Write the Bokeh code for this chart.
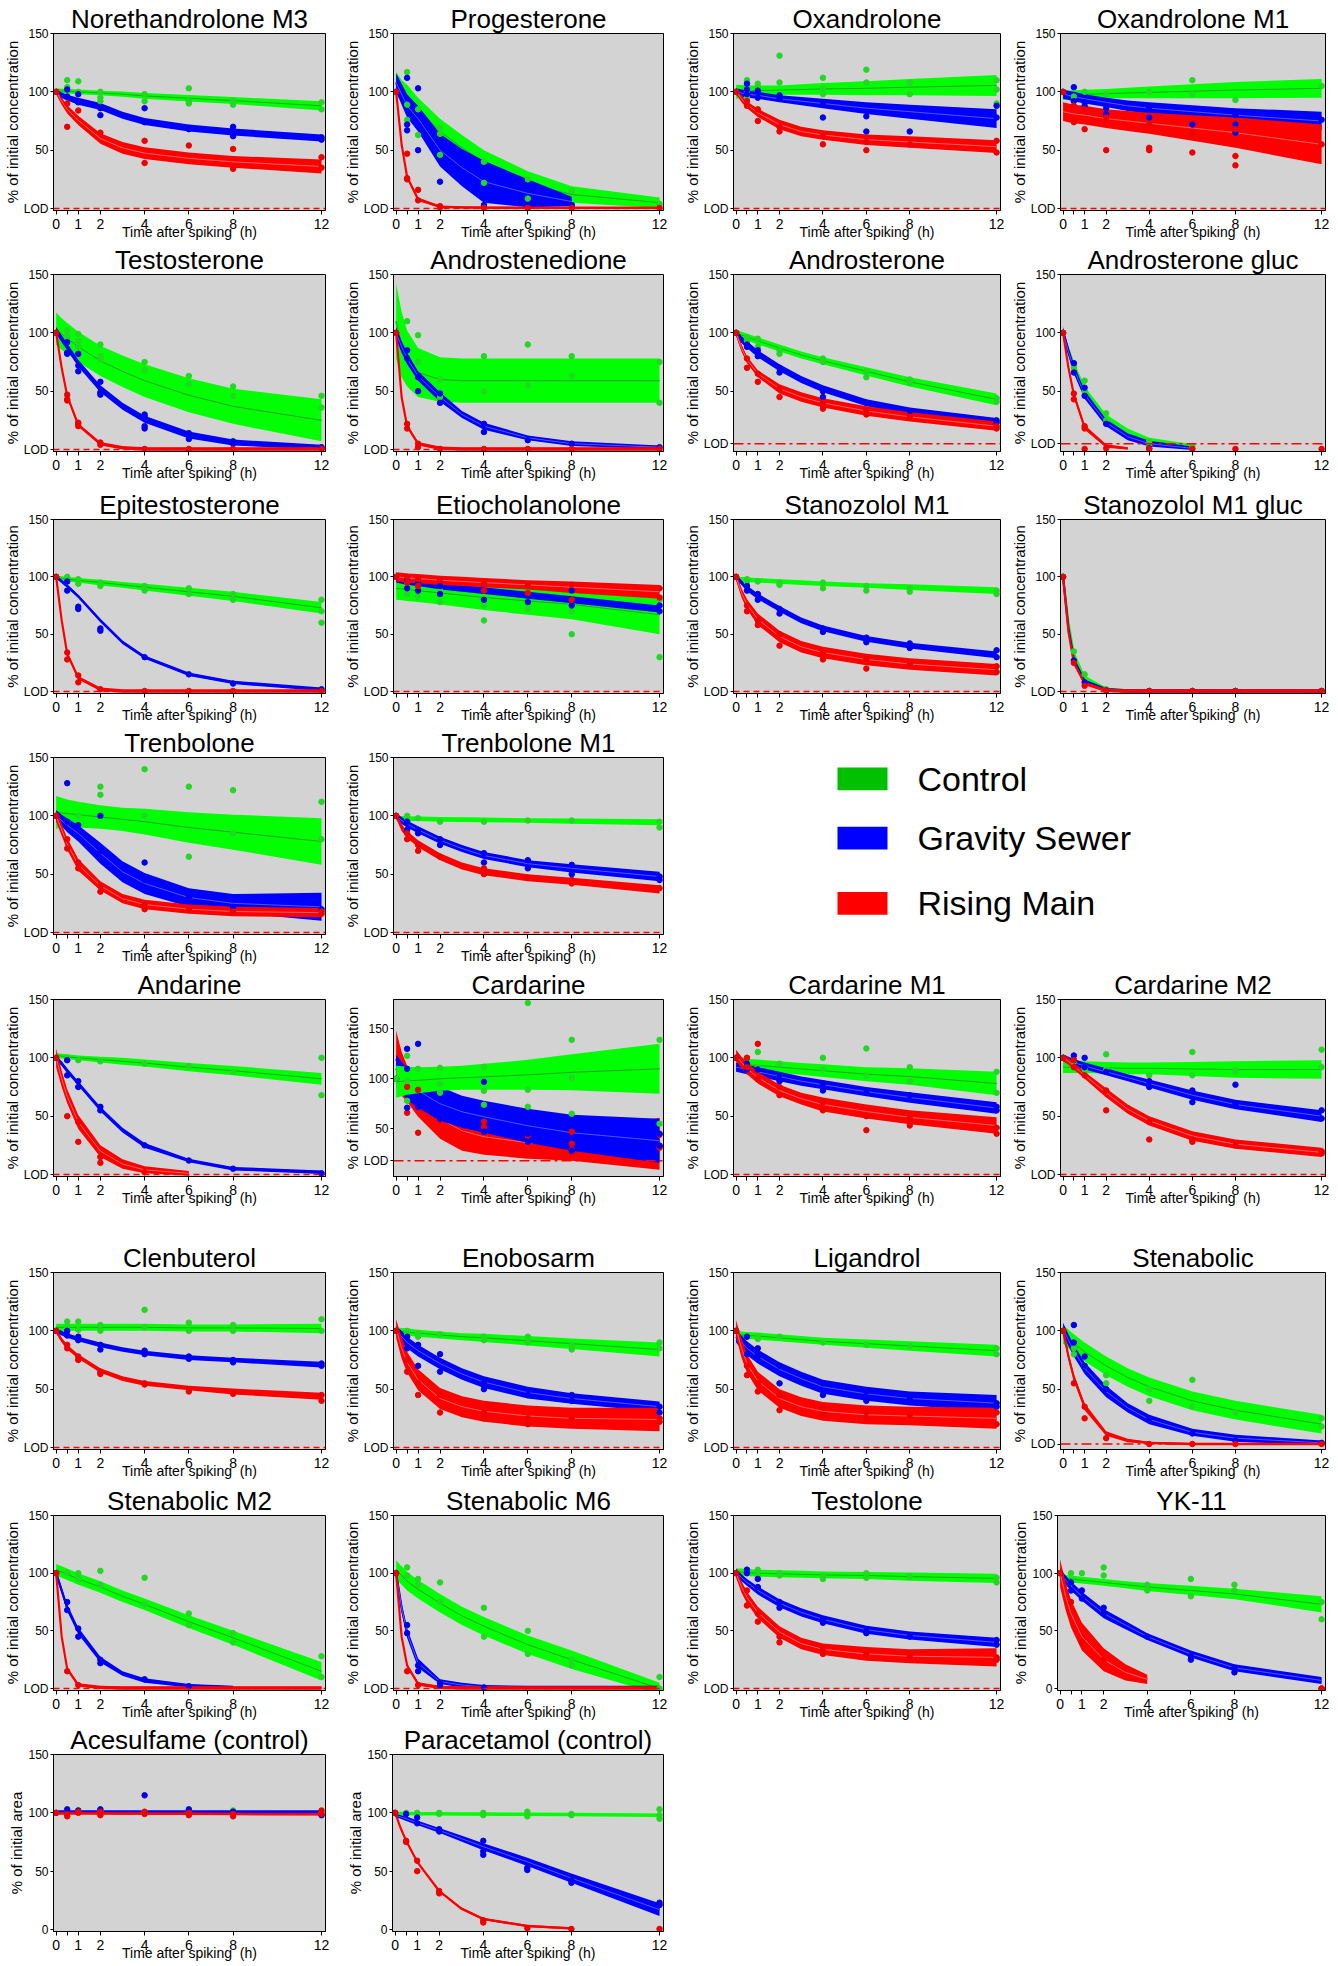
from bokeh.plotting import figure
from bokeh.models import Range1d, FixedTicker, Span, Spacer
from bokeh.layouts import row, column
from bokeh.core.properties import value
from bokeh.embed import file_html
from bokeh.resources import INLINE

FONT = "Liberation Sans"

CURVE_T = [0, 0.25, 0.5, 1, 2, 3, 4, 6, 8, 12]
POINT_T = [0, 0.5, 1, 2, 4, 6, 8, 12]
X_TICKS = [0, 0.5, 1, 2, 4, 6, 8, 12]
X_TICK_LABELS = ["0", "", "1", "2", "4", "6", "8", "12"]
X_LABEL = "Time after spiking\u00a0 (h)"

TITLES = ["Norethandrolone M3", "Progesterone", "Oxandrolone", "Oxandrolone M1",
          "Testosterone", "Androstenedione", "Androsterone", "Androsterone gluc",
          "Epitestosterone", "Etiocholanolone", "Stanozolol M1", "Stanozolol M1 gluc",
          "Trenbolone", "Trenbolone M1",
          "Andarine", "Cardarine", "Cardarine M1", "Cardarine M2",
          "Clenbuterol", "Enobosarm", "Ligandrol", "Stenabolic",
          "Stenabolic M2", "Stenabolic M6", "Testolone", "YK-11",
          "Acesulfame (control)", "Paracetamol (control)"]

# LOD level per panel (None = plain 0 axis, no LOD line)
LOD = [0, 0, 0, 0, 0, 0, 5, 5, 0, 0, 0, 0, 0, 0,
       0, 18, 0, 0, 0, 0, 0, 3, 0, 0, 0, None, None, None]
Y_LABELS = ["% of initial concentration"] * 26 + ["% of initial area"] * 2
Y_MAX = [150] * 15 + [179.4] + [150] * 12
Y_MIN = [-1.7] * 15 + [2.2] + [-1.7] * 12
SERIES_ORDER = ["GBR"] * 15 + ["RBG"] + ["GBR"] * 12

SERIES_NAMES = ["Control", "Gravity Sewer", "Rising Main"]

# ---- fitted curve (centre) and half-width of confidence band, at CURVE_T ----
G_MID = [
    [101, 100.7, 100.5, 100, 99, 98, 96.5, 94.5, 92.5, 88],
    [107, 101, 96, 85, 66, 52, 40, 21, 12, 5],
    [100, 100.3, 100.5, 101, 101.5, 102, 102.5, 103, 104, 105.5],
    [97, 97.2, 97.4, 97.8, 98.5, 99, 99.5, 100.5, 101.5, 103],
    [103.5, 99, 95.5, 88, 76, 67, 59, 46.5, 37, 25],
    [110, 90, 78, 66, 60, 59, 59, 59, 59, 59],
    [100, 98, 96.5, 93, 87, 81, 76, 67, 58, 43],
    [100, 86, 73, 52, 28, 16, 8, 3, None, None],
    [99, 98.5, 98, 97, 95, 93, 91, 87, 83, 73],
    [90, 89.5, 89, 88, 86, 84, 82, 79, 76, 67],
    [98, 97.8, 97.5, 97, 96, 95, 94, 92.5, 91, 88],
    [100, 60, 33, 12, 2, 0.5, 0.5, 0.5, 0.5, 0.5],
    [103, 102.5, 102, 101, 99, 97, 95, 90, 86, 78],
    [98, 97.8, 97.6, 97.5, 97, 96.8, 96.5, 96, 95.5, 94.5],
    [102, 101.5, 101, 100, 98.5, 97, 95.5, 92, 89, 82],
    [97, 97.5, 98, 98.5, 100, 101, 102, 104, 106.5, 110],
    [95, 94.5, 94, 93.5, 92, 90.5, 89, 86, 84, 78],
    [92, 92, 92, 92, 91.5, 91, 91, 90.5, 90, 90],
    [103, 103, 103, 103, 103, 103, 103, 102.5, 102.5, 102],
    [100, 99.5, 99, 98, 96.5, 95, 94, 91.5, 89, 84],
    [97, 96.5, 96, 95.5, 94, 92.5, 91, 89, 87, 83],
    [97, 93, 89, 82, 70, 60, 52, 40, 32, 20],
    [103, 101, 99, 95, 88, 80, 73, 58, 44, 15],
    [103, 98, 93, 86, 74, 63, 54, 38, 25, 0],
    [101, 101, 100.5, 100, 99.5, 99, 98.5, 98, 97, 95.5],
    [96, 95.5, 95, 94, 92, 90, 88, 85, 82, 73],
    [100.5, 100.5, 100.5, 100.5, 100.5, 100.5, 100.5, 100.5, 100.5, 100.5],
    [99.5, 99.5, 99.4, 99.3, 99.2, 99, 98.9, 98.7, 98.5, 98],
]
G_HW = [
    [2, 2, 2, 2, 2, 2.3, 2.5, 2.8, 3, 4],
    [10, 9, 10, 10, 11, 11, 10, 11, 7, 4.5],
    [6, 5.5, 5, 4.5, 4, 4.5, 5, 6, 7, 9],
    [4, 4, 4, 4, 4, 4.5, 5, 6, 7, 8],
    [14, 13.5, 13, 13, 13, 13.5, 14, 14.5, 15, 18],
    [32, 28, 24, 21, 19, 19, 19, 19, 19, 19],
    [3, 3, 3, 3, 3, 3, 3, 3.5, 4, 5],
    [2, 2, 2, 2, 2, 2, 2, 1.5, 1.5, 1.5],
    [2, 2, 2, 2, 2.5, 2.5, 3, 3.5, 4, 5],
    [10, 10, 10, 10, 10, 10.5, 11, 12, 13, 17],
    [2, 2, 2, 2, 2, 2, 2, 2, 2.5, 3],
    [2, 2, 2, 2, 1.5, 1.5, 1.5, 1.5, 1.5, 1.5],
    [14, 13, 12, 11, 10, 10, 11, 13, 15, 20],
    [2, 2, 2, 2, 2, 2, 2, 2, 2.2, 2.5],
    [2, 2, 2, 2, 2.5, 3, 3, 3.5, 4, 5],
    [16, 15, 14, 13, 12, 12, 13, 15, 18, 25],
    [6, 6, 5, 5, 5, 5, 5.5, 6, 7, 10],
    [5, 5, 5, 5, 5, 5, 5, 6, 7, 8],
    [3, 3, 3, 3, 3, 3, 3, 3, 3, 4],
    [3, 3, 3, 3, 3, 3, 3.5, 4, 4.5, 6],
    [3, 3, 3, 3, 3, 3, 3, 3.5, 4, 5],
    [8, 8, 8, 8, 8, 8, 8, 8, 8, 8],
    [5, 5, 5, 5, 5, 5, 5, 5.5, 6, 8],
    [8, 8, 8, 8, 8, 8, 8, 8, 8, 5],
    [3, 3, 3, 3, 3, 3, 3, 3, 3.5, 4],
    [3, 3, 3, 3, 3, 3, 3.5, 4, 4.5, 7],
    [1, 1, 1, 1, 1, 1, 1, 1, 1, 1],
    [1.5, 1.5, 1.5, 1.5, 1.5, 1.5, 1.5, 1.5, 1.5, 1.5],
]
B_MID = [
    [100, 97, 95, 92, 87.5, 80, 74.5, 69, 65.5, 60.5],
    [108, 98, 88, 77, 50, 35, 23, 13, 6, None],
    [100, 99, 98, 97, 94, 92, 90, 86, 83, 77],
    [98, 97, 96, 94, 91, 88, 86, 83, 80, 75],
    [102, 95, 88, 74, 52, 37, 26, 12.5, 6, 2],
    [100, 88, 78, 63, 45, 30, 20, 10, 5, 2],
    [100, 94, 90, 82, 70, 60, 52, 40, 33, 24],
    [100, 84, 69, 47, 23, 11, 5, 1, None, None],
    [100, 96, 92, 83, 62, 43, 30, 15, 8, 2],
    [98, 97, 96, 95, 92, 90, 88, 84, 80, 72],
    [100, 95, 90, 83, 72, 62, 55, 46, 40, 32],
    [100, 55, 28, 9, 1.5, 0.5, 0.5, 0.5, 0.5, 0.5],
    [100, 96, 92, 85, 68, 52, 42, 30, 25, 22],
    [100, 96, 93, 88, 79, 72, 66, 59, 55, 48],
    [100, 95, 89, 78, 56, 38, 25, 12, 5, 2],
    [110, 102, 95, 88, 75, 67, 62, 53, 46, 38],
    [92, 91, 90, 88, 84, 80, 77, 71, 66, 57],
    [100, 98, 96, 93, 88, 83, 78, 68, 60, 50],
    [100, 98, 96, 93, 88, 84, 81, 77, 75, 71],
    [100, 95, 90, 83, 72, 63, 56, 47, 42, 35],
    [95, 90, 85, 78, 67, 59, 52, 46, 42, 38],
    [102, 92, 83, 68, 48, 34, 24, 13, 8, 4],
    [100, 85, 70, 50, 25, 13, 7, 2.5, 1, None],
    [100, 70, 48, 22, 6, 3, 1.5, 1, 1, 1],
    [101, 96, 92, 85, 74, 66, 60, 51, 46, 40],
    [100, 94, 89, 80, 65, 55, 45, 30, 18, 7],
    [101, 101, 101, 101, 101, 101, 101, 101, 101, 101],
    [98, 96.5, 95, 91.5, 85, 78, 71, 58, 44, 17],
]
B_HW = [
    [2, 2.5, 2.5, 3, 3, 3, 3, 3, 3, 3],
    [8, 9, 10, 11, 14, 16, 18, 12, 4, 4],
    [3, 3, 3, 3, 3, 3.5, 4, 5, 6, 8],
    [4, 4, 4, 4, 4, 4.5, 5, 5.5, 6, 8],
    [3, 3, 3, 3, 3, 3, 3, 3, 2.5, 2],
    [5, 5, 5, 4, 4, 3, 3, 2, 2, 1.5],
    [3, 3, 3, 3, 3, 3, 3, 3, 3, 3],
    [5, 4, 4, 3.5, 3, 3, 2.5, 1.5, 1.5, 1.5],
    [1.5, 1.5, 1.5, 1.5, 1.5, 1.5, 1.5, 1.5, 1.5, 1.5],
    [3, 3, 3, 3, 3, 3, 3, 3, 3, 3],
    [2, 2, 2.5, 2.5, 2.5, 2.5, 2.5, 2.5, 2.5, 3],
    [1.5, 1.5, 1.5, 1.5, 1.5, 1.5, 1.5, 1.5, 1.5, 1.5],
    [5, 5, 6, 7, 9, 9, 9, 8, 8, 12],
    [2, 3, 3, 3, 3, 3, 3, 3, 3.5, 4],
    [2, 2, 2, 2, 2, 2, 2, 1.5, 1.5, 1.5],
    [14, 15, 16, 17, 17, 16, 16, 17, 18, 22],
    [4, 4, 4, 4, 4, 4, 4, 4, 4.5, 5],
    [3, 3, 3, 3, 3, 3, 3.5, 4, 4, 5],
    [2, 2, 2, 2, 2, 2, 2, 2, 2, 2.5],
    [4, 5, 5, 5, 5, 5, 5, 5, 4.5, 4.5],
    [5, 6, 6, 6, 6, 6, 6, 6, 6, 7],
    [5, 5, 5, 5, 5, 4, 4, 3, 3, 2],
    [3, 3, 3, 3, 2.5, 2, 2, 1.5, 1.5, 1.5],
    [4, 4, 4, 4, 2, 2, 1.5, 1.5, 1.5, 1.5],
    [3, 3, 3, 3.5, 3.5, 3.5, 3.5, 3.5, 3.5, 4],
    [4, 4, 4, 4, 4, 3.5, 3, 3, 3, 3],
    [1, 1, 1, 1, 1, 1, 1, 1, 1, 1],
    [1.5, 1.5, 2, 2, 2, 2.5, 3, 3.5, 4, 5.5],
]
R_MID = [
    [100, 92, 85, 75.5, 60, 52, 47.5, 43, 40, 36],
    [100, 55, 27, 8, 1.5, 1, 0.8, 0.5, 0.5, 0.5],
    [100, 94, 89, 82, 72, 66, 63, 59, 57, 53],
    [83, 82, 81, 80, 77, 75, 73, 69, 65, 55],
    [100, 70, 46, 21, 5, 1.5, 0.5, 0.5, 0.5, 0.5],
    [100, 45, 20, 5, 1, 0.5, 0.5, 0.5, 0.5, 0.5],
    [100, 87, 77, 65, 52, 45, 40, 33, 28, 20],
    [100, 70, 47, 19, 3, 1, None, None, None, None],
    [100, 62, 33, 12, 2, 0.5, 0.5, 0.5, 0.5, 0.5],
    [100, 99.5, 99, 98.5, 97, 96, 95, 93, 91, 87],
    [100, 86, 76, 63, 48, 39, 34, 28, 24, 19],
    [100, 52, 25, 7, 1, 0.5, 0.5, 0.5, 0.5, 0.5],
    [100, 88, 76, 58, 40, 29, 24, 20, 18, 17],
    [100, 90, 84, 76, 65, 57, 52, 47, 44, 37],
    [100, 82, 67, 45, 20, 9, 4, 1, None, None],
    [120, 105, 95, 80, 60, 48, 42, 36, 32, 35],
    [102, 96, 91, 83, 72, 65, 60, 54, 49, 42],
    [100, 97, 93, 85, 70, 56, 46, 33, 26, 19],
    [100, 92, 86, 78, 66, 59, 55, 51, 48, 44],
    [102, 85, 73, 58, 42, 35, 31, 27, 25, 24],
    [102, 85, 72, 57, 42, 35, 31, 28, 27, 25],
    [100, 78, 60, 35, 12, 6, 4, 3, 3, 3],
    [100, 45, 17, 3, 1, 0.5, 0.5, 0.5, 0.5, 0.5],
    [100, 45, 20, 4, 1, 0.5, 0.5, 0.5, 0.5, 0.5],
    [100, 88, 79, 66, 49, 39, 34, 30, 28, 27],
    [100, 80, 65, 45, 25, 14, 8, None, None, None],
    [99.5, 99.5, 99.5, 99.5, 99.5, 99.4, 99.3, 99.2, 99, 98.8],
    [100, 87, 76, 58, 33, 18, 9, 3, 1, None],
]
R_HW = [
    [2, 3, 3.5, 4, 4.5, 5, 5, 5, 5, 6],
    [2, 2, 1.5, 1.5, 1, 1, 1, 1, 1, 1],
    [2, 3, 3, 3.5, 4, 4, 4, 4.5, 5, 5.5],
    [8, 8, 8, 8, 8, 8.5, 9, 11, 13, 17],
    [1.5, 1.5, 1.5, 1.5, 1.5, 1.5, 1.5, 1.5, 1.5, 1.5],
    [1.5, 1.5, 1.5, 1.5, 1.5, 1.5, 1.5, 1.5, 1.5, 1.5],
    [2, 3, 3, 3, 4, 4, 4, 4, 4, 4],
    [2, 2, 2, 2, 1.5, 1, 1, 1, 1, 1],
    [1.5, 1.5, 1.5, 1.5, 1.5, 1.5, 1.5, 1.5, 1.5, 1.5],
    [4, 4, 4, 4, 4, 4, 4, 4, 5, 6],
    [3, 4, 4.5, 5, 5, 5, 5, 5, 5, 5],
    [1.5, 1.5, 1.5, 1.5, 1.5, 1.5, 1.5, 1.5, 1.5, 1.5],
    [5, 5, 5, 5, 4, 4, 4, 4, 4, 4],
    [2, 3, 3, 3, 3, 3, 3, 3, 3, 3.5],
    [8, 7, 6, 6, 5, 4, 3, 2, 2, 2],
    [28, 22, 18, 18, 20, 20, 18, 16, 14, 26],
    [5, 5, 5, 5, 5, 5, 6, 6, 6, 7],
    [3, 3, 3, 3, 4, 4, 4, 4, 4, 4],
    [2, 2, 2, 2, 2, 2, 2, 2, 2.5, 3],
    [8, 9, 9, 9, 9, 9, 9, 9, 9, 10],
    [7, 8, 8, 8, 8, 8, 8, 8, 8, 9],
    [3, 3, 3, 3, 2, 1.5, 1, 1, 1, 1],
    [1.5, 1.5, 1.5, 1.5, 1.5, 1.5, 1.5, 1.5, 1.5, 1.5],
    [1.5, 1.5, 1.5, 1.5, 1.5, 1.5, 1.5, 1.5, 1.5, 1.5],
    [4, 5, 5, 5, 5, 5, 5, 6, 6, 8],
    [12, 12, 12, 12, 10, 7, 4, 4, 4, 4],
    [1, 1, 1, 1, 1, 1, 1, 1, 1, 1],
    [1, 1, 1, 1, 1, 1, 1, 1, 1, 1],
]

# ---- measured replicates at POINT_T ----
G_PTS = [
    [[100], [110, 104], [109, 100], [100, 95, 92], [98, 92], [103, 92, 90], [92, 89], [91, 85]],
    [[100], [117, 89, 76], [85, 63], [69, 64, 46], [40, 22], [25, 8.5], [15], [4]],
    [[100], [110, 100, 95], [107, 104], [131, 108], [112, 103, 98], [119, 108], [108, 98], [110, 102, 90]],
    [[100], [96], [100], [98], [100], [110, 98], [93], [105]],
    [[100], [102, 97], [99, 93, 88], [90, 80, 77], [75, 68], [63, 56], [54, 46], [46, 36]],
    [[100], [110], [98, 75], [60, 45], [80, 50], [90, 55], [80, 63], [75, 40]],
    [[100], [96, 93], [95, 88], [85, 82], [78, 75], [67, 62], [60, 57], [44, 41]],
    [[100], [72, 70], [59, 50], [31, 25], [7, 3], [3, 1], [], []],
    [[100], [100, 96], [98, 94], [95, 92], [92, 88], [90, 85], [85, 80], [80, 70, 60]],
    [[100], [95, 85], [90, 83], [88, 78], [75, 62], [85, 72], [70, 50], [80, 30]],
    [[100], [98, 95], [96], [95, 93], [95, 90], [92, 88], [90, 87], [88, 85]],
    [[100], [35], [15], [2], [0.5], [0.5], [0.5], [0.5]],
    [[100], [95], [100], [125, 118], [140, 100], [125, 65], [122, 85], [112, 80]],
    [[100], [100, 96], [98], [95], [95], [96], [96], [95, 90]],
    [[100], [100, 98], [98], [97], [95], [93], [88], [100, 68]],
    [[100], [123, 98, 78], [110], [111, 95, 86], [112, 88, 74], [176, 89, 72], [139, 101, 65], [139, 55]],
    [[100], [100, 95], [105, 92], [95, 85], [100, 90], [108, 85], [92, 80], [88, 70]],
    [[100], [97], [92, 90], [103, 90], [85], [105, 85], [90, 88], [107, 92]],
    [[100], [108, 103], [108, 101], [105, 100], [118, 103], [107, 100], [105, 100], [110, 100]],
    [[100], [100, 97], [98, 95], [97], [95, 92], [95, 90], [88, 84], [90, 85]],
    [[100], [95], [95, 93], [95], [90], [88], [87], [85, 80]],
    [[100], [85, 80], [78, 70], [62, 55], [50, 40], [58, 35], [30], [25, 18]],
    [[100], [100], [100, 95], [102, 90], [96, 73], [65, 55], [48, 40], [28, 10]],
    [[100], [105, 98], [95, 90], [92, 75], [70, 45], [50, 30], [25, 20], [10, 0]],
    [[100], [103, 100], [103, 98], [100, 98], [98, 95], [100, 96], [97], [96, 92]],
    [[100], [100, 92], [100], [105, 98], [90, 85], [95, 80], [90, 85], [75, 60]],
    [[100], [101, 99], [102], [102], [100], [101], [102], [100]],
    [[100], [100, 99], [100], [100, 99], [100, 98], [101, 97], [99, 98], [103, 98, 95]],
]
B_PTS = [
    [[100], [102, 96], [98, 91], [86, 80], [86, 74], [69, 68], [70, 62], [61, 59]],
    [[100], [112, 72, 67], [103, 50], [58, 23], [3], [1], [3], []],
    [[100], [107, 102, 98], [101, 95], [97, 94], [89, 78], [79, 66], [66], [88, 78]],
    [[100], [104, 92], [91, 88], [86, 81], [87, 78], [72], [80, 72, 65], [76]],
    [[100], [92, 83, 82], [82, 72, 67], [58, 49, 47], [30, 28, 20, 18], [14, 12, 9], [7, 5], [2]],
    [[100], [85, 78], [62, 50], [48, 40], [22, 15], [8], [5], [2]],
    [[100], [90, 88], [85, 80], [70, 66], [50, 45], [40], [33], [25, 23]],
    [[100], [74, 66], [53, 46], [22], [1], [], [], []],
    [[100], [96, 88], [74, 72], [55, 53], [30], [15], [7], [2]],
    [[100], [97, 90], [95, 88], [92, 85], [88, 80], [85, 78], [88, 75], [75, 70]],
    [[100], [92, 88], [85, 80], [72, 68], [55, 52], [47, 43], [42, 38], [36, 30]],
    [[100], [27], [8], [1], [0.5], [0.5], [0.5], [0.5]],
    [[100], [128, 95], [92], [100, 70], [60, 45], [30], [22], [20]],
    [[100], [95, 88], [88, 85], [80, 75], [68, 60], [62, 55], [58, 50], [48, 45]],
    [[100], [98, 85], [80, 75], [58, 55], [25], [12], [5], [1]],
    [[100], [130, 110, 71], [135, 80, 72], [85, 60], [97, 47], [45, 37], [28], [45, 33]],
    [[100], [95, 90], [90], [85, 80], [78, 72], [70], [68], [58, 55]],
    [[100], [102, 98], [100, 92], [88], [80, 75], [72, 62], [77, 60], [55, 48]],
    [[100], [100, 96], [95, 92], [88, 84], [83, 80], [78, 76], [75, 73], [72, 70]],
    [[100], [95, 85], [88, 70], [80, 65], [55, 50], [45], [45, 40], [35, 30]],
    [[100], [95, 80], [85, 78], [70, 55], [55, 45], [48, 40], [42], [38, 35]],
    [[100], [105, 90], [78, 70], [50], [25], [12], [6], [4]],
    [[100], [75, 68], [52, 45], [25, 22], [8], [2], [], []],
    [[100], [55, 48], [20, 15], [5, 3], [1], [], [], []],
    [[100], [103, 100], [95, 88], [75, 70], [60, 57], [50, 48], [45], [42, 38]],
    [[100], [92, 85], [85, 78], [70, 65], [45], [28, 25], [18, 14], [0]],
    [[100], [103, 100], [102], [103], [115], [103], [101], [98]],
    [[100], [99], [96, 91], [86, 84], [76, 67, 64], [53, 51], [42, 40], [23, 21]],
]
R_PTS = [
    [[100], [90, 70], [84], [65], [58, 39], [54], [51, 34], [44, 35]],
    [[100], [47, 26, 25], [16, 7], [2, 1], [0.5], [0.5], [0.5], [0.5]],
    [[100], [92, 88], [85, 75], [70, 66], [62, 55], [57, 50], [55], [58, 48]],
    [[100], [88, 74], [85, 68], [78, 50], [72, 52, 50], [65, 48], [68, 45, 37], [55]],
    [[100], [47, 43, 42], [23, 22, 20], [6, 4], [0.5], [0.5], [0.5], [0.5]],
    [[100], [22, 18], [5, 2], [0.5], [0.5], [0.5], [0.5], [0.5]],
    [[100], [78, 70], [65, 58], [52, 45], [40, 35], [34, 30], [28], [20, 18]],
    [[100], [48, 43], [20, 18, 0.5], [1], [0.5], [0.5], [0.5], [0.5]],
    [[100], [34, 28], [14, 8], [2], [0.5], [0.5], [0.5], [0.5]],
    [[100], [100, 95], [98, 92], [97], [94, 88], [92, 86], [93, 80], [90, 82]],
    [[100], [75, 70], [62, 58], [50, 40], [34, 28], [28, 20], [24], [22, 17]],
    [[100], [25], [5], [1], [0.5], [0.5], [0.5], [0.5]],
    [[100], [80, 72], [60, 55], [40, 35], [24, 20], [20], [18, 17], [18, 16]],
    [[100], [85, 80], [75, 70], [65], [55, 50], [47], [45, 42], [38]],
    [[100], [50], [45, 28], [15, 10], [2], [], [], []],
    [[100], [92, 66], [89, 80, 46], [59], [57, 52], [45, 43], [47, 35, 29], [44, 33, 31]],
    [[100], [100, 92], [112, 82], [75, 68], [62, 55], [50, 38], [48, 42], [40, 35]],
    [[100], [98, 92], [85], [72, 55], [45, 30], [30, 28], [25], [20, 18]],
    [[100], [88, 85], [78, 75], [65, 63], [55, 54], [50, 48], [46], [45, 40]],
    [[100], [75, 65], [55, 45], [45, 30], [30, 25], [25, 20], [25], [25, 22]],
    [[100], [70, 62], [55, 48], [45, 32], [35, 28], [30, 25], [28], [30, 20]],
    [[100], [55], [35, 25], [8], [3], [3], [3], [3]],
    [[100], [15], [3], [], [], [], [], []],
    [[100], [15], [3], [], [], [], [], []],
    [[100], [85, 72], [65, 58], [45, 40], [35, 30], [30], [28], [27, 25]],
    [[100], [75], [40], [25], [], [], [], [0]],
    [[100], [99, 97], [100, 101], [101, 98], [101, 99], [100, 98], [99, 97], [102, 99]],
    [[100], [76, 75], [59, 50], [33, 31], [8, 6], [1], [0.5], [0.5]],
]

MID = {"G": G_MID, "B": B_MID, "R": R_MID}
HW = {"G": G_HW, "B": B_HW, "R": R_HW}
PTS = {"G": G_PTS, "B": B_PTS, "R": R_PTS}

BAND_COLOR = {"G": "#00ff00", "B": "#0000ff", "R": "#ff0000"}
CENTER_COLOR = {"G": "#2e8b2e", "B": "#6a6aff", "R": "#ff7a7a"}
DOT_COLOR = {"G": "#22d822", "B": "#0000ee", "R": "#ee0000"}
LEGEND_COLOR = ["#00c000", "#0000ff", "#ff0000"]

# ---- page layout (pixels) ----
GRID = [[0, 1, 2, 3], [4, 5, 6, 7], [8, 9, 10, 11], [12, 13, "legend"],
        [14, 15, 16, 17], [18, 19, 20, 21], [22, 23, 24, 25], [26, 27, "blank"]]
COL_W = [340, 340, 327, 331]
COL_LB = [53, 52, 53, 50]
COL_RB = [15, 17, 7, 13]
ROW_H = [242, 245, 238, 242, 273, 243, 239, 244]
ROW_TB = [33, 30, 30, 30, 30, 30, 30, 30]
FRAME_H = 179
# legend swatches, in pixels from the top of the legend row
LEG_TOP = [40, 100, 166]
LEG_SW_X = (157, 207)
LEG_TEXT_X = 237


def style_axis(ax):
    ax.axis_line_color = "black"
    ax.major_tick_line_color = "black"
    ax.minor_tick_line_color = None
    ax.major_tick_in = 0
    ax.major_label_text_font = FONT
    ax.major_label_text_color = "black"
    ax.axis_label_text_font = FONT
    ax.axis_label_text_font_style = "normal"
    ax.axis_label_text_color = "black"


def panel(i, c, r):
    tb = ROW_TB[r]
    bb = ROW_H[r] - tb - FRAME_H
    p = figure(width=COL_W[c], height=ROW_H[r],
               x_range=Range1d(-0.12, 12.18), y_range=Range1d(Y_MIN[i], Y_MAX[i]),
               output_backend="svg", toolbar_location=None, tools="",
               min_border_left=COL_LB[c], min_border_right=COL_RB[c],
               min_border_top=tb, min_border_bottom=bb,
               background_fill_color="#d3d3d3", border_fill_color="white",
               outline_line_color="black", outline_line_width=1,
               title=TITLES[i])
    p.title.align = "center"
    p.title.text_font = FONT
    p.title.text_font_size = "26px"
    p.title.text_font_style = "normal"
    p.title.text_color = "black"
    p.title.standoff = 0
    p.grid.visible = False

    xa = p.xaxis[0]
    style_axis(xa)
    xa.ticker = FixedTicker(ticks=X_TICKS)
    xa.major_label_overrides = {t: lab for t, lab in zip(X_TICKS, X_TICK_LABELS)}
    xa.axis_label = X_LABEL
    xa.major_tick_out = 4
    xa.major_label_standoff = 4
    xa.major_label_text_font_size = "14px"
    xa.axis_label_text_font_size = "14px"
    xa.axis_label_standoff = -8

    ya = p.yaxis[0]
    style_axis(ya)
    lod = LOD[i]
    base = 0 if lod is None else lod
    ya.ticker = FixedTicker(ticks=[base, 50, 100, 150])
    if lod is not None:
        ya.major_label_overrides = {lod: "LOD"}
    ya.axis_label = Y_LABELS[i]
    ya.major_tick_out = 3
    ya.major_label_standoff = 2
    ya.major_label_text_font_size = "12px"
    ya.axis_label_text_font_size = "15px"
    ya.axis_label_standoff = 0

    for s in SERIES_ORDER[i]:
        mid = MID[s][i]
        hw = HW[s][i]
        n = len([v for v in mid if v is not None])
        t = CURVE_T[:n]
        m = mid[:n]
        h = hw[:n]
        lo = [a - b for a, b in zip(m, h)]
        hi = [a + b for a, b in zip(m, h)]
        p.varea(x=t, y1=lo, y2=hi, fill_color=BAND_COLOR[s], fill_alpha=1.0)
        p.line(t, m, line_color=BAND_COLOR[s], line_width=2.2)
        if max(h) >= 4:
            p.line(t, m, line_color=CENTER_COLOR[s], line_width=0.8)
    for s in SERIES_ORDER[i]:
        xs, ys = [], []
        for t, vals in zip(POINT_T, PTS[s][i]):
            for v in vals:
                xs.append(t)
                ys.append(v)
        p.scatter(xs, ys, size=5.5, color=DOT_COLOR[s], line_color=DOT_COLOR[s])

    if lod is not None:
        dash = "6 4" if lod == 0 else "10 4 3 4"
        p.add_layout(Span(location=lod, dimension="width", line_color="red",
                          line_width=1.5, line_dash=dash))
    return p


def legend_panel(width, r):
    tb = ROW_TB[r]
    bb = ROW_H[r] - tb - FRAME_H
    # y data units = pixels from the top of the row
    p = figure(width=width, height=ROW_H[r], x_range=Range1d(0, width),
               y_range=Range1d(tb + FRAME_H, tb), output_backend="svg",
               toolbar_location=None, tools="", x_axis_type=None, y_axis_type=None,
               min_border_left=0, min_border_right=0,
               min_border_top=tb, min_border_bottom=bb, outline_line_color=None,
               background_fill_color="white", border_fill_color="white")
    p.grid.visible = False
    n = len(SERIES_NAMES)
    p.quad(left=[LEG_SW_X[0]] * n, right=[LEG_SW_X[1]] * n,
           top=LEG_TOP, bottom=[t + 23 for t in LEG_TOP],
           fill_color=LEGEND_COLOR, line_color=None)
    p.text(x=[LEG_TEXT_X] * n, y=[t + 11.5 for t in LEG_TOP], text=SERIES_NAMES,
           text_font=value(FONT), text_font_size="34px", text_color="black",
           text_baseline="middle", text_align="left")
    return p


rows = []
for r, cells in enumerate(GRID):
    items = []
    for c, cell in enumerate(cells):
        if cell == "legend":
            items.append(legend_panel(COL_W[2] + COL_W[3], r))
        elif cell == "blank":
            items.append(Spacer(width=COL_W[2] + COL_W[3], height=ROW_H[r]))
        else:
            items.append(panel(cell, c, r))
    rows.append(row(*items, spacing=0))
layout = column(*rows, spacing=0)

open("out.html", "w").write(file_html(layout, INLINE))
